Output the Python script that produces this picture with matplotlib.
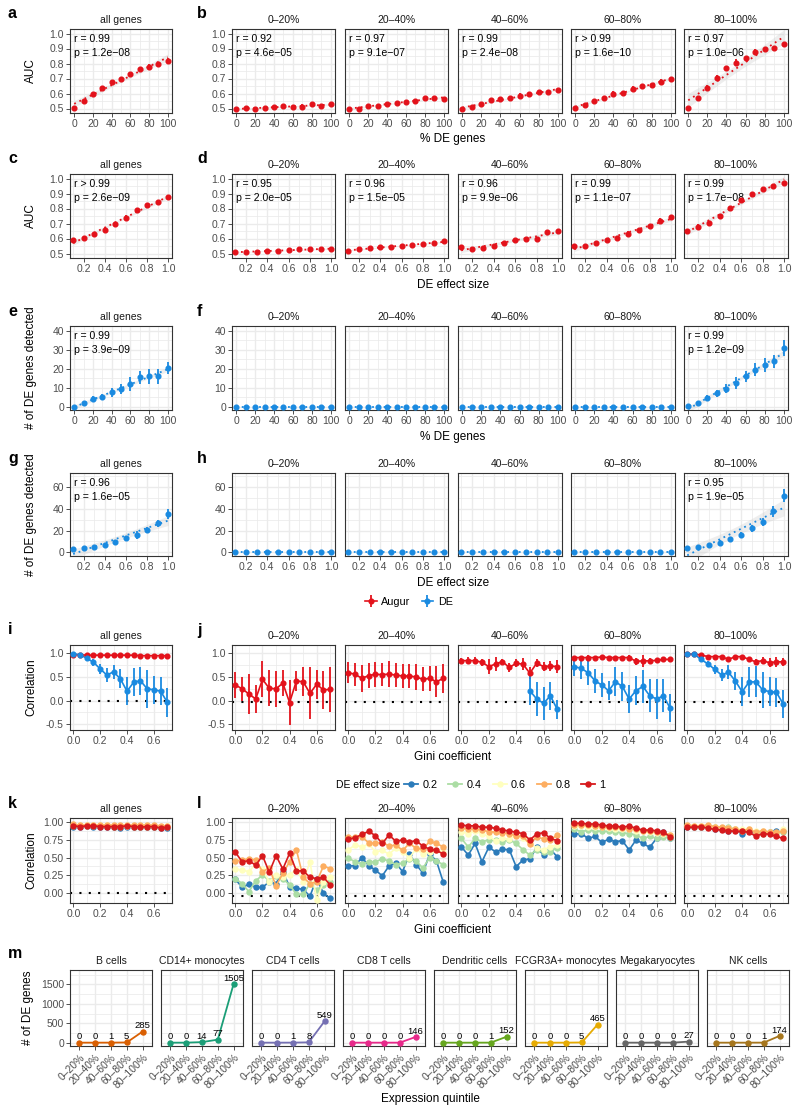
import numpy as np
import matplotlib
matplotlib.use("Agg")
import matplotlib.pyplot as plt
from matplotlib.ticker import FixedLocator, FormatStrFormatter
from matplotlib.lines import Line2D

plt.rcParams['font.family'] = ['Liberation Sans', 'DejaVu Sans']

# ---------------- data ----------------
quintiles = ["0–20%", "20–40%", "40–60%", "60–80%", "80–100%"]
pct_de = [0, 10, 20, 30, 40, 50, 60, 70, 80, 90, 100]
effect = [0.1, 0.2, 0.3, 0.4, 0.5, 0.6, 0.7, 0.8, 0.9, 1.0]
gini = [0.0, 0.05, 0.1, 0.15, 0.2, 0.25, 0.3, 0.35, 0.4, 0.45, 0.5, 0.55, 0.6, 0.65, 0.7]

# a / b : AUC vs % DE genes
a_auc = [0.504, 0.549, 0.596, 0.638, 0.678, 0.700, 0.727, 0.762, 0.778, 0.800, 0.818]
a_err = [0.010, 0.010, 0.008, 0.012, 0.014, 0.010, 0.010, 0.012, 0.016, 0.012, 0.020]
b_auc = {
    "0–20%": [0.495, 0.506, 0.495, 0.506, 0.510, 0.517, 0.510, 0.513, 0.527, 0.517, 0.529],
    "20–40%": [0.500, 0.500, 0.517, 0.520, 0.533, 0.538, 0.545, 0.550, 0.570, 0.568, 0.565],
    "40–60%": [0.500, 0.510, 0.527, 0.555, 0.562, 0.569, 0.585, 0.598, 0.609, 0.609, 0.622],
    "60–80%": [0.506, 0.522, 0.551, 0.567, 0.600, 0.604, 0.631, 0.649, 0.656, 0.678, 0.694],
    "80–100%": [0.504, 0.567, 0.638, 0.705, 0.767, 0.805, 0.835, 0.878, 0.895, 0.905, 0.927],
}
b_err = {
    "0–20%": [0.006, 0.006, 0.006, 0.006, 0.008, 0.008, 0.014, 0.014, 0.008, 0.006, 0.010],
    "20–40%": [0.006, 0.006, 0.010, 0.008, 0.010, 0.010, 0.010, 0.010, 0.010, 0.008, 0.010],
    "40–60%": [0.006, 0.006, 0.008, 0.008, 0.014, 0.014, 0.018, 0.008, 0.008, 0.014, 0.010],
    "60–80%": [0.006, 0.014, 0.010, 0.016, 0.014, 0.016, 0.016, 0.014, 0.012, 0.016, 0.014],
    "80–100%": [0.006, 0.016, 0.016, 0.020, 0.016, 0.022, 0.016, 0.018, 0.012, 0.010, 0.016],
}
a_stats = ("r = 0.99", "p = 1.2e−08")
b_stats = [("r = 0.92", "p = 4.6e−05"), ("r = 0.97", "p = 9.1e−07"), ("r = 0.99", "p = 2.4e−08"),
           ("r > 0.99", "p = 1.6e−10"), ("r = 0.97", "p = 1.0e−06")]

# c / d : AUC vs DE effect size
c_auc = [0.587, 0.604, 0.631, 0.656, 0.700, 0.738, 0.787, 0.822, 0.844, 0.880]
c_err = [0.014, 0.012, 0.008, 0.014, 0.008, 0.016, 0.016, 0.012, 0.008, 0.008]
d_auc = {
    "0–20%": [0.511, 0.511, 0.507, 0.520, 0.520, 0.522, 0.527, 0.527, 0.527, 0.533],
    "20–40%": [0.516, 0.531, 0.538, 0.542, 0.544, 0.552, 0.556, 0.562, 0.570, 0.582],
    "40–60%": [0.542, 0.531, 0.538, 0.553, 0.571, 0.589, 0.598, 0.600, 0.642, 0.649],
    "60–80%": [0.549, 0.549, 0.571, 0.593, 0.604, 0.631, 0.656, 0.682, 0.720, 0.742],
    "80–100%": [0.649, 0.676, 0.704, 0.749, 0.804, 0.856, 0.898, 0.931, 0.949, 0.971],
}
d_err = {
    "0–20%": [0.006, 0.008, 0.006, 0.008, 0.006, 0.006, 0.006, 0.006, 0.006, 0.012],
    "20–40%": [0.006, 0.008, 0.006, 0.016, 0.010, 0.010, 0.008, 0.010, 0.008, 0.012],
    "40–60%": [0.012, 0.008, 0.014, 0.010, 0.012, 0.010, 0.008, 0.010, 0.010, 0.014],
    "60–80%": [0.012, 0.014, 0.008, 0.008, 0.014, 0.016, 0.008, 0.010, 0.018, 0.012],
    "80–100%": [0.016, 0.022, 0.012, 0.016, 0.016, 0.012, 0.012, 0.010, 0.008, 0.008],
}
c_stats = ("r > 0.99", "p = 2.6e−09")
d_stats = [("r = 0.95", "p = 2.0e−05"), ("r = 0.96", "p = 1.5e−05"), ("r = 0.96", "p = 9.9e−06"),
           ("r = 0.99", "p = 1.1e−07"), ("r = 0.99", "p = 1.7e−08")]

# e / f : DE genes detected vs % DE genes
e_n = [0.0, 1.7, 4.0, 5.0, 7.5, 9.3, 12.0, 15.5, 16.0, 16.0, 20.3]
e_err = [0.4, 0.6, 1.5, 1.5, 2.2, 2.8, 3.5, 3.5, 3.8, 3.8, 3.2]
f_n = {
    "0–20%": [0, 0, 0, 0, 0, 0, 0, 0, 0, 0, 0],
    "20–40%": [0, 0, 0, 0, 0, 0, 0, 0, 0, 0, 0],
    "40–60%": [0, 0, 0, 0, 0, 0, 0, 0, 0, 0, 0],
    "60–80%": [0, 0, 0, 0, 0, 0, 0, 0, 0, 0, 0],
    "80–100%": [0.3, 2.0, 4.5, 7.0, 9.5, 12.5, 16.0, 19.5, 22.0, 24.0, 31.0],
}
f_err = {
    "0–20%": [0.2, 0.2, 0.3, 0.2, 0.2, 0.3, 0.2, 0.2, 0.3, 0.2, 0.2],
    "20–40%": [0.2, 0.2, 0.3, 0.2, 0.2, 0.3, 0.2, 0.2, 0.3, 0.2, 0.2],
    "40–60%": [0.2, 0.2, 0.3, 0.2, 0.2, 0.3, 0.2, 0.2, 0.3, 0.2, 0.2],
    "60–80%": [0.2, 0.2, 0.3, 0.2, 0.2, 0.3, 0.2, 0.2, 0.3, 0.2, 0.2],
    "80–100%": [0.5, 1.0, 1.5, 2.0, 2.5, 3.0, 3.0, 3.5, 3.5, 3.5, 4.0],
}
e_stats = ("r = 0.99", "p = 3.9e−09")
f_stats = [None, None, None, None, ("r = 0.99", "p = 1.2e−09")]

# g / h : DE genes detected vs DE effect size
g_n = [2.8, 3.7, 4.6, 6.8, 9.2, 12.9, 16.0, 20.6, 26.8, 35.4]
g_err = [0.5, 1.0, 1.0, 1.5, 2.0, 2.0, 4.0, 3.0, 3.0, 5.0]
h_n = {
    "0–20%": [0, 0, 0, 0, 0, 0, 0, 0, 0, 0],
    "20–40%": [0, 0, 0, 0, 0, 0, 0, 0, 0, 0],
    "40–60%": [0, 0, 0, 0, 0, 0, 0, 0, 0, 0],
    "60–80%": [0, 0, 0, 0, 0, 0, 0, 0, 0, 0],
    "80–100%": [4.0, 5.0, 7.0, 9.0, 12.0, 16.0, 22.0, 28.0, 38.0, 52.0],
}
h_err = {
    "0–20%": [0.3, 0.3, 0.3, 0.3, 0.3, 0.3, 0.3, 0.3, 0.3, 0.3],
    "20–40%": [0.3, 0.3, 0.3, 0.3, 0.3, 0.3, 0.3, 0.3, 0.3, 0.3],
    "40–60%": [0.3, 0.3, 0.3, 0.3, 0.3, 0.3, 0.3, 0.3, 0.3, 0.3],
    "60–80%": [0.3, 0.3, 0.3, 0.3, 0.3, 0.3, 0.3, 0.3, 0.3, 0.3],
    "80–100%": [1.0, 1.5, 1.5, 2.0, 2.0, 3.0, 3.0, 4.0, 5.0, 6.0],
}
g_stats = ("r = 0.96", "p = 1.6e−05")
h_stats = [None, None, None, None, ("r = 0.95", "p = 1.9e−05")]

# i / j : correlation vs Gini coefficient
nan = np.nan
i_augur = [0.97, 0.97, 0.96, 0.96, 0.96, 0.96, 0.96, 0.96, 0.96, 0.96, 0.95, 0.95, 0.95, 0.95, 0.95]
i_augur_err = [0.01, 0.01, 0.01, 0.01, 0.01, 0.01, 0.01, 0.01, 0.01, 0.01, 0.01, 0.01, 0.01, 0.01, 0.01]
i_de = [0.986, 0.97, 0.894, 0.81, 0.67, 0.54, 0.61, 0.46, 0.20, 0.39, 0.42, 0.25, 0.23, 0.20, -0.035]
i_de_err = [0.01, 0.01, 0.03, 0.07, 0.10, 0.15, 0.15, 0.20, 0.30, 0.30, 0.30, 0.40, 0.30, 0.30, 0.31]
j_augur = {
    "0–20%": [0.33, 0.25, 0.14, 0.035, 0.45, 0.26, 0.25, 0.37, -0.04, 0.415, 0.40, 0.155, 0.345, 0.225, 0.24],
    "20–40%": [0.59, 0.556, 0.47, 0.53, 0.556, 0.55, 0.56, 0.54, 0.52, 0.52, 0.50, 0.45, 0.47, 0.40, 0.47],
    "40–60%": [0.845, 0.845, 0.845, 0.81, 0.72, 0.775, 0.824, 0.70, 0.79, 0.77, 0.58, 0.79, 0.72, 0.73, 0.72],
    "60–80%": [0.91, 0.91, 0.91, 0.91, 0.92, 0.91, 0.91, 0.91, 0.91, 0.83, 0.84, 0.84, 0.85, 0.87, 0.87],
    "80–100%": [0.98, 0.98, 0.965, 0.93, 0.93, 0.93, 0.87, 0.93, 0.93, 0.87, 0.82, 0.845, 0.80, 0.82, 0.82],
}
j_augur_err = {
    "0–20%": [0.28, 0.25, 0.42, 0.30, 0.38, 0.38, 0.38, 0.28, 0.47, 0.22, 0.30, 0.55, 0.30, 0.40, 0.48],
    "20–40%": [0.22, 0.24, 0.28, 0.27, 0.27, 0.24, 0.28, 0.26, 0.25, 0.26, 0.28, 0.25, 0.27, 0.33, 0.30],
    "40–60%": [0.06, 0.07, 0.07, 0.07, 0.16, 0.14, 0.05, 0.10, 0.08, 0.12, 0.12, 0.08, 0.10, 0.10, 0.14],
    "60–80%": [0.04, 0.04, 0.05, 0.04, 0.04, 0.04, 0.04, 0.04, 0.06, 0.07, 0.12, 0.06, 0.05, 0.05, 0.04],
    "80–100%": [0.02, 0.02, 0.03, 0.03, 0.03, 0.04, 0.06, 0.04, 0.04, 0.05, 0.06, 0.08, 0.10, 0.10, 0.08],
}
j_de = {
    "0–20%": [nan, nan, nan, nan, nan, nan, nan, nan, nan, nan, nan, nan, nan, nan, nan],
    "20–40%": [nan, nan, nan, nan, nan, nan, nan, nan, nan, nan, nan, nan, nan, nan, nan],
    "40–60%": [nan, nan, nan, nan, nan, nan, nan, nan, nan, nan, 0.21, 0.035, -0.056, 0.10, -0.18],
    "60–80%": [0.72, 0.68, 0.59, 0.42, 0.33, 0.21, 0.40, 0.30, 0.035, 0.21, 0.30, 0.105, 0.035, 0.10, -0.16],
    "80–100%": [0.98, 0.98, 0.87, 0.775, 0.66, 0.54, 0.60, 0.415, 0.19, 0.39, 0.40, 0.225, 0.19, 0.176, -0.07],
}
j_de_err = {
    "0–20%": [nan, nan, nan, nan, nan, nan, nan, nan, nan, nan, nan, nan, nan, nan, nan],
    "20–40%": [nan, nan, nan, nan, nan, nan, nan, nan, nan, nan, nan, nan, nan, nan, nan],
    "40–60%": [nan, nan, nan, nan, nan, nan, nan, nan, nan, nan, 0.30, 0.35, 0.35, 0.30, 0.20],
    "60–80%": [0.20, 0.22, 0.25, 0.25, 0.25, 0.20, 0.30, 0.30, 0.30, 0.30, 0.35, 0.35, 0.42, 0.35, 0.30],
    "80–100%": [0.01, 0.01, 0.04, 0.07, 0.10, 0.12, 0.15, 0.20, 0.30, 0.32, 0.33, 0.38, 0.30, 0.30, 0.30],
}

# k / l : correlation per DE effect size
effect_levels = ["0.2", "0.4", "0.6", "0.8", "1"]
k_cor = {
    "0.2": [0.94, 0.94, 0.95, 0.94, 0.94, 0.94, 0.93, 0.92, 0.93, 0.93, 0.94, 0.93, 0.93, 0.92, 0.92],
    "0.4": [0.95, 0.95, 0.95, 0.95, 0.95, 0.95, 0.94, 0.94, 0.95, 0.94, 0.94, 0.94, 0.94, 0.93, 0.93],
    "0.6": [0.96, 0.96, 0.96, 0.96, 0.96, 0.96, 0.95, 0.95, 0.95, 0.95, 0.95, 0.95, 0.95, 0.94, 0.95],
    "0.8": [0.97, 0.96, 0.96, 0.96, 0.96, 0.96, 0.96, 0.96, 0.96, 0.96, 0.96, 0.96, 0.96, 0.95, 0.95],
    "1": [0.95, 0.94, 0.95, 0.95, 0.94, 0.94, 0.94, 0.94, 0.95, 0.94, 0.93, 0.94, 0.94, 0.92, 0.93],
}
l_cor = {
    "0–20%": {
        "0.2": [0.19, 0.076, 0.12, 0.076, 0.076, 0.155, 0.13, 0.30, 0.085, 0.06, 0.05, -0.05, 0.20, -0.01, -0.08],
        "0.4": [0.20, 0.13, 0.014, 0.17, 0.25, 0.17, 0.24, 0.20, 0.11, -0.024, -0.024, 0.13, 0.038, 0.11, 0.155],
        "0.6": [0.336, 0.32, 0.30, 0.41, 0.33, 0.155, 0.25, 0.23, 0.25, 0.336, 0.155, 0.44, -0.10, 0.155, 0.23],
        "0.8": [0.45, 0.465, 0.48, 0.465, 0.30, 0.35, 0.095, 0.275, 0.44, 0.61, 0.22, 0.13, 0.155, 0.38, 0.34],
        "1": [0.573, 0.44, 0.455, 0.39, 0.526, 0.29, 0.526, 0.336, 0.56, 0.31, 0.31, 0.22, 0.20, 0.22, 0.11],
    },
    "20–40%": {
        "0.2": [0.38, 0.385, 0.50, 0.385, 0.32, 0.24, 0.38, 0.42, 0.30, 0.55, 0.40, 0.28, 0.55, 0.45, 0.15],
        "0.4": [0.49, 0.44, 0.41, 0.44, 0.44, 0.48, 0.45, 0.40, 0.42, 0.48, 0.45, 0.35, 0.50, 0.45, 0.40],
        "0.6": [0.61, 0.68, 0.65, 0.69, 0.58, 0.60, 0.55, 0.63, 0.58, 0.50, 0.62, 0.55, 0.58, 0.60, 0.58],
        "0.8": [0.79, 0.79, 0.79, 0.71, 0.70, 0.72, 0.66, 0.68, 0.60, 0.70, 0.63, 0.62, 0.73, 0.70, 0.65],
        "1": [0.76, 0.78, 0.83, 0.87, 0.81, 0.70, 0.82, 0.73, 0.75, 0.72, 0.74, 0.66, 0.62, 0.60, 0.55],
    },
    "40–60%": {
        "0.2": [0.65, 0.535, 0.70, 0.44, 0.645, 0.58, 0.616, 0.61, 0.37, 0.465, 0.48, 0.645, 0.535, 0.616, 0.51],
        "0.4": [0.77, 0.65, 0.77, 0.725, 0.75, 0.75, 0.725, 0.75, 0.70, 0.61, 0.535, 0.61, 0.58, 0.58, 0.64],
        "0.6": [0.867, 0.84, 0.88, 0.834, 0.80, 0.735, 0.77, 0.76, 0.82, 0.77, 0.70, 0.63, 0.61, 0.65, 0.68],
        "0.8": [0.915, 0.905, 0.90, 0.89, 0.867, 0.86, 0.85, 0.84, 0.806, 0.80, 0.687, 0.796, 0.763, 0.75, 0.82],
        "1": [0.96, 0.95, 0.95, 0.93, 0.93, 0.915, 0.89, 0.877, 0.858, 0.84, 0.75, 0.834, 0.853, 0.77, 0.74],
    },
    "60–80%": {
        "0.2": [0.834, 0.84, 0.77, 0.80, 0.716, 0.758, 0.725, 0.74, 0.607, 0.749, 0.70, 0.645, 0.77, 0.86, 0.78],
        "0.4": [0.90, 0.867, 0.89, 0.88, 0.87, 0.87, 0.86, 0.85, 0.84, 0.82, 0.77, 0.80, 0.77, 0.79, 0.78],
        "0.6": [0.95, 0.95, 0.94, 0.94, 0.93, 0.92, 0.91, 0.91, 0.90, 0.88, 0.87, 0.86, 0.85, 0.84, 0.82],
        "0.8": [0.962, 0.96, 0.955, 0.95, 0.94, 0.93, 0.93, 0.92, 0.91, 0.90, 0.88, 0.87, 0.86, 0.85, 0.82],
        "1": [0.986, 0.986, 0.976, 0.976, 0.962, 0.948, 0.948, 0.93, 0.948, 0.915, 0.89, 0.89, 0.88, 0.858, 0.796],
    },
    "80–100%": {
        "0.2": [0.94, 0.94, 0.94, 0.93, 0.90, 0.90, 0.88, 0.89, 0.84, 0.88, 0.85, 0.86, 0.86, 0.88, 0.87],
        "0.4": [0.95, 0.94, 0.94, 0.93, 0.93, 0.92, 0.94, 0.90, 0.87, 0.88, 0.86, 0.83, 0.86, 0.85, 0.86],
        "0.6": [0.95, 0.95, 0.95, 0.94, 0.93, 0.92, 0.92, 0.91, 0.90, 0.90, 0.87, 0.88, 0.86, 0.85, 0.90],
        "0.8": [0.96, 0.95, 0.95, 0.96, 0.94, 0.93, 0.92, 0.90, 0.88, 0.90, 0.86, 0.88, 0.86, 0.86, 0.87],
        "1": [0.93, 0.93, 0.94, 0.915, 0.90, 0.89, 0.88, 0.87, 0.87, 0.86, 0.80, 0.84, 0.83, 0.80, 0.77],
    },
}

# m : number of DE genes per cell type
cell_types = ["B cells", "CD14+ monocytes", "CD4 T cells", "CD8 T cells", "Dendritic cells",
              "FCGR3A+ monocytes", "Megakaryocytes", "NK cells"]
m_counts = {
    "B cells": [0, 0, 1, 5, 285],
    "CD14+ monocytes": [0, 0, 14, 77, 1505],
    "CD4 T cells": [0, 0, 1, 8, 549],
    "CD8 T cells": [0, 0, 0, 0, 146],
    "Dendritic cells": [0, 0, 0, 1, 152],
    "FCGR3A+ monocytes": [0, 0, 0, 5, 465],
    "Megakaryocytes": [0, 0, 0, 0, 27],
    "NK cells": [0, 0, 0, 1, 174],
}
m_colors = ["#D95F02", "#1B9E77", "#7570B3", "#E7298A", "#66A61E", "#E6AB02", "#666666", "#A6761D"]

# ---------------- style ----------------
RED = "#E3121B"
BLUE = "#1A8AE0"
eff_colors = {"0.2": "#2B7BBA", "0.4": "#ABDDA4", "0.6": "#FFFFBF", "0.8": "#FDAE61", "1": "#D7191C"}

W, H = 800, 1113
fig = plt.figure(figsize=(8, 11.13), dpi=100)

FIRST = (70, 172)
FACETS = [(232, 335), (345, 448), (458, 562), (571, 675), (684, 788)]
TICK_FS = 7.5
TITLE_FS = 7.5
LAB_FS = 8.5


def add_ax(l, t, r, b):
    return fig.add_axes([l / W, 1 - b / H, (r - l) / W, (b - t) / H])


def style(ax, xlim, ylim, xmaj, xmin, ymaj, ymin, xfmt, yfmt, show_y=True):
    ax.set_xlim(xlim)
    ax.set_ylim(ylim)
    ax.xaxis.set_major_locator(FixedLocator(xmaj))
    ax.xaxis.set_minor_locator(FixedLocator(xmin))
    ax.yaxis.set_major_locator(FixedLocator(ymaj))
    ax.yaxis.set_minor_locator(FixedLocator(ymin))
    if xfmt:
        ax.xaxis.set_major_formatter(FormatStrFormatter(xfmt))
    if yfmt:
        ax.yaxis.set_major_formatter(FormatStrFormatter(yfmt))
    ax.grid(which="major", color="#EBEBEB", lw=1.0)
    ax.grid(which="minor", color="#EBEBEB", lw=0.55)
    ax.set_axisbelow(True)
    ax.tick_params(which="major", length=2.6, width=0.6, color="#333333",
                   labelsize=TICK_FS, labelcolor="#4D4D4D", pad=1.8)
    ax.tick_params(which="minor", length=0)
    for s in ax.spines.values():
        s.set_color("#333333")
        s.set_linewidth(0.8)
    if not show_y:
        ax.tick_params(axis="y", which="both", left=False, labelleft=False)


def letter(x, y, s):
    fig.text(x / W, 1 - y / H, s, fontsize=11.5, fontweight="bold", va="center", ha="left")


def ylab(y, s, x=31):
    fig.text(x / W, 1 - y / H, s, rotation=90, fontsize=LAB_FS, va="center", ha="center")


def xlab(y, s, x=453):
    fig.text(x / W, 1 - y / H, s, fontsize=LAB_FS, va="center", ha="center")


def stats_text(ax, st):
    if st is None:
        return
    ax.text(0.04, 0.88, st[0], transform=ax.transAxes, fontsize=7.6, va="center", ha="left")
    ax.text(0.04, 0.715, st[1], transform=ax.transAxes, fontsize=7.6, va="center", ha="left")


def reg_points(ax, x, y, err, color):
    x = np.asarray(x, float)
    y = np.asarray(y, float)
    b1, b0 = np.polyfit(x, y, 1)
    xs = np.linspace(x.min(), x.max(), 80)
    fit = b0 + b1 * xs
    n = len(x)
    resid = y - (b0 + b1 * x)
    s = np.sqrt(np.sum(resid ** 2) / (n - 2))
    se = s * np.sqrt(1 / n + (xs - x.mean()) ** 2 / np.sum((x - x.mean()) ** 2))
    ax.fill_between(xs, fit - 2.26 * se, fit + 2.26 * se, color="#C8C8C8", alpha=0.3, lw=0, zorder=2)
    ax.plot(xs, fit, color=color, lw=1.3, ls=(0, (1, 2.2)), zorder=2.5)
    ax.errorbar(x, y, yerr=err, fmt="o", color=color, ms=3.4, elinewidth=1.3, capsize=0, zorder=3)


def scatter_row(top, bot, x, y_all, e_all, st_all, y_q, e_q, st_q, color, lims, ticks, fmts,
                l1, l2, ylabel, xlabel, xlab_y):
    xlim, ylim = lims
    xmaj, xmin, ymaj, ymin = ticks
    xfmt, yfmt = fmts
    ax = add_ax(FIRST[0], top, FIRST[1], bot)
    style(ax, xlim, ylim, xmaj, xmin, ymaj, ymin, xfmt, yfmt)
    reg_points(ax, x, y_all, e_all, color)
    stats_text(ax, st_all)
    ax.set_title("all genes", fontsize=TITLE_FS, color="#1A1A1A", pad=4.5)
    letter(8, top - 15, l1)
    letter(197, top - 15, l2)
    ylab((top + bot) / 2, ylabel)
    for k, (q, (l, r)) in enumerate(zip(quintiles, FACETS)):
        ax = add_ax(l, top, r, bot)
        style(ax, xlim, ylim, xmaj, xmin, ymaj, ymin, xfmt, yfmt, show_y=(k == 0))
        reg_points(ax, x, y_q[q], e_q[q], color)
        stats_text(ax, st_q[k])
        ax.set_title(q, fontsize=TITLE_FS, color="#1A1A1A", pad=4.5)
    xlab(xlab_y, xlabel)


pct_ticks = ([0, 20, 40, 60, 80, 100], [10, 30, 50, 70, 90])
eff_ticks = ([0.2, 0.4, 0.6, 0.8, 1.0], [0.1, 0.3, 0.5, 0.7, 0.9])
auc_ticks = ([0.5, 0.6, 0.7, 0.8, 0.9, 1.0], [0.55, 0.65, 0.75, 0.85, 0.95])

scatter_row(29, 113, pct_de, a_auc, a_err, a_stats, b_auc, b_err, b_stats, RED,
            ((-4.5, 104.5), (0.47, 1.03)), pct_ticks + auc_ticks, ("%d", "%.1f"),
            "a", "b", "AUC", "% DE genes", 139)
scatter_row(174, 258, effect, c_auc, c_err, c_stats, d_auc, d_err, d_stats, RED,
            ((0.07, 1.035), (0.47, 1.03)), eff_ticks + auc_ticks, ("%.1f", "%.1f"),
            "c", "d", "AUC", "DE effect size", 285)
scatter_row(326, 410, pct_de, e_n, e_err, e_stats, f_n, f_err, f_stats, BLUE,
            ((-4.5, 104.5), (-1.8, 42.6)), pct_ticks + ([0, 10, 20, 30, 40], [5, 15, 25, 35]),
            ("%d", "%d"), "e", "f", "# of DE genes detected", "% DE genes", 437)
scatter_row(473, 556, effect, g_n, g_err, g_stats, h_n, h_err, h_stats, BLUE,
            ((0.07, 1.035), (-3.4, 73.2)), eff_ticks + ([0, 20, 40, 60], [10, 30, 50, 70]),
            ("%.1f", "%d"), "g", "h", "# of DE genes detected", "DE effect size", 583)

# Augur / DE legend
aug_h = (Line2D([], [], color=RED, lw=1.2, marker="o", ms=3.4),
         Line2D([], [], color=RED, lw=0, marker="|", ms=9, mew=1.3))
de_h = (Line2D([], [], color=BLUE, lw=1.2, marker="o", ms=3.4),
        Line2D([], [], color=BLUE, lw=0, marker="|", ms=9, mew=1.3))
fig.legend([aug_h, de_h], ["Augur", "DE"], loc="center", bbox_to_anchor=(409 / W, 1 - 602 / H),
           ncol=2, frameon=False, fontsize=7.8, handlelength=1.1, handletextpad=0.4, columnspacing=1.0)

# i / j
gini_lims = (-0.025, 0.735)
gini_ticks = ([0.0, 0.2, 0.4, 0.6], [0.1, 0.3, 0.5, 0.7])
corr_ticks = ([-0.5, 0.0, 0.5, 1.0], [-0.25, 0.25, 0.75])


def line_err(ax, x, y, err, color):
    ax.plot(x, y, color=color, lw=1.2, zorder=3)
    ax.errorbar(x, y, yerr=err, fmt="o", color=color, ms=3.4, elinewidth=1.3, capsize=0, zorder=3)


ax = add_ax(FIRST[0], 645, FIRST[1], 730)
style(ax, gini_lims, (-0.62, 1.175), *gini_ticks, *corr_ticks, "%.1f", "%.1f")
ax.axhline(0, color="black", lw=1.5, ls=(0, (1, 3.5)), zorder=2)
line_err(ax, gini, i_augur, i_augur_err, RED)
line_err(ax, gini, i_de, i_de_err, BLUE)
ax.set_title("all genes", fontsize=TITLE_FS, color="#1A1A1A", pad=4.5)
letter(8, 630, "i")
letter(197, 630, "j")
ylab(687, "Correlation")
for k, (q, (l, r)) in enumerate(zip(quintiles, FACETS)):
    ax = add_ax(l, 645, r, 730)
    style(ax, gini_lims, (-0.62, 1.175), *gini_ticks, *corr_ticks, "%.1f", "%.1f", show_y=(k == 0))
    ax.axhline(-0.035, color="black", lw=1.5, ls=(0, (1, 3.5)), zorder=2)
    line_err(ax, gini, j_augur[q], j_augur_err[q], RED)
    line_err(ax, gini, j_de[q], j_de_err[q], BLUE)
    ax.set_title(q, fontsize=TITLE_FS, color="#1A1A1A", pad=4.5)
xlab(757, "Gini coefficient")

# effect size legend
fig.text(336 / W, 1 - 785 / H, "DE effect size", fontsize=7.5, va="center", ha="left")
eff_h = [Line2D([], [], color=eff_colors[lv], lw=1.3, marker="o", ms=3.6) for lv in effect_levels]
fig.legend(eff_h, effect_levels, loc="center left", bbox_to_anchor=(404 / W, 1 - 785 / H), ncol=5,
           frameon=False, fontsize=7.8, handlelength=1.3, handletextpad=0.4, columnspacing=1.0,
           borderaxespad=0, borderpad=0)

# k / l
cor_ticks = ([0.0, 0.25, 0.5, 0.75, 1.0], [0.125, 0.375, 0.625, 0.875])


def effect_lines(ax, series):
    for lv in effect_levels:
        ax.plot(gini, series[lv], color=eff_colors[lv], lw=1.2, marker="o", ms=3.6, zorder=3)


ax = add_ax(FIRST[0], 818, FIRST[1], 903)
style(ax, gini_lims, (-0.146, 1.061), *gini_ticks, *cor_ticks, "%.1f", "%.2f")
ax.axhline(0, color="black", lw=1.5, ls=(0, (1, 3.5)), zorder=2)
effect_lines(ax, k_cor)
ax.set_title("all genes", fontsize=TITLE_FS, color="#1A1A1A", pad=4.5)
letter(8, 803, "k")
letter(197, 803, "l")
ylab(860, "Correlation")
for k, (q, (l, r)) in enumerate(zip(quintiles, FACETS)):
    ax = add_ax(l, 818, r, 903)
    style(ax, gini_lims, (-0.146, 1.061), *gini_ticks, *cor_ticks, "%.1f", "%.2f", show_y=(k == 0))
    ax.axhline(-0.05, color="black", lw=1.5, ls=(0, (1, 3.5)), zorder=2)
    effect_lines(ax, l_cor[q])
    ax.set_title(q, fontsize=TITLE_FS, color="#1A1A1A", pad=4.5)
xlab(930, "Gini coefficient")

# m
letter(8, 953, "m")
ylab(1008, "# of DE genes", x=28)
xpos = [1, 2, 3, 4, 5]
for k, ct in enumerate(cell_types):
    l = 70 + k * 91
    ax = add_ax(l, 970, l + 82, 1046)
    style(ax, (0.4, 5.6), (-86, 1870), xpos, [], [0, 500, 1000, 1500], [250, 750, 1250, 1750],
          None, "%d", show_y=(k == 0))
    ax.set_xticklabels(quintiles, rotation=45, ha="right", rotation_mode="anchor")
    ax.plot(xpos, m_counts[ct], color=m_colors[k], lw=1.3, marker="o", ms=3.6, zorder=3)
    for xv, yv in zip(xpos, m_counts[ct]):
        ax.annotate(str(yv), (xv, yv), xytext=(0, 1.0), textcoords="offset points",
                    ha="center", va="bottom", fontsize=6.8, zorder=4)
    ax.set_title(ct, fontsize=TITLE_FS, color="#1A1A1A", pad=4.5)
xlab(1099, "Expression quintile", x=430)

fig.savefig("out.png", dpi=100)
